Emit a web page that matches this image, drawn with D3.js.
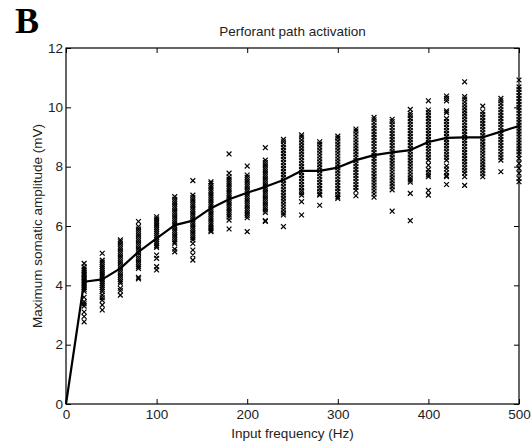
<!DOCTYPE html>
<html>
<head>
<meta charset="utf-8">
<script src="https://cdn.jsdelivr.net/npm/d3@7"></script>
<style>
  body { margin: 0; background: #fff; }
  svg { display: block; }
  text { font-family: Arial, "Liberation Sans", Helvetica, sans-serif; fill: #222; }
</style>
</head>
<body>
<div id="chart"></div>
<script>
// Input frequency (Hz) for each stimulation condition
const frequencies = [0, 20, 40, 60, 80, 100, 120, 140, 160, 180, 200, 220, 240,
    260, 280, 300, 320, 340, 360, 380, 400, 420, 440, 460, 480, 500];

// mean maximum somatic amplitude (mV), the solid line
const meanAmplitude = [0, 4.12, 4.2, 4.57, 5.13, 5.58, 6.03, 6.18, 6.6, 6.9, 7.12, 7.32, 7.55,
    7.86, 7.86, 7.97, 8.22, 8.39, 8.48, 8.56, 8.83, 8.97, 8.99, 8.99, 9.18, 9.37];

// individual trials (x markers), one list per frequency from 20 Hz up
const trials20 = [4.74, 4.62, 4.55, 4.5, 4.44, 4.38, 4.33, 4.27, 4.22, 4.17, 4.12, 4.07, 4.02, 3.97, 3.92, 3.86, 3.8, 3.6, 3.45, 3.38, 3.3, 3.1, 2.95, 2.77];
const trials40 = [5.08, 4.85, 4.78, 4.7, 4.63, 4.56, 4.49, 4.42, 4.35, 4.28, 4.21, 4.14, 4.07, 4.0, 3.93, 3.86, 3.79, 3.67, 3.58, 3.5, 3.34, 3.17];
const trials60 = [5.53, 5.47, 5.39, 5.31, 5.23, 5.15, 5.07, 4.99, 4.91, 4.83, 4.75, 4.67, 4.59, 4.51, 4.43, 4.35, 4.27, 4.19, 4.12, 4.07, 3.9, 3.82, 3.67];
const trials80 = [6.15, 5.98, 5.9, 5.82, 5.74, 5.66, 5.58, 5.5, 5.42, 5.34, 5.26, 5.18, 5.1, 5.02, 4.94, 4.86, 4.78, 4.7, 4.63, 4.57, 4.27, 4.22];
const trials100 = [6.31, 6.24, 6.17, 6.1, 6.03, 5.96, 5.89, 5.82, 5.75, 5.68, 5.61, 5.54, 5.47, 5.4, 5.33, 5.28, 5.02, 4.91, 4.63, 4.52];
const trials120 = [6.99, 6.9, 6.82, 6.74, 6.66, 6.58, 6.5, 6.42, 6.34, 6.26, 6.18, 6.1, 6.02, 5.94, 5.86, 5.78, 5.7, 5.62, 5.54, 5.46, 5.41, 5.22, 5.13];
const trials140 = [7.53, 7.04, 6.96, 6.88, 6.8, 6.72, 6.64, 6.56, 6.48, 6.4, 6.32, 6.24, 6.16, 6.08, 6.0, 5.92, 5.84, 5.76, 5.68, 5.6, 5.53, 5.41, 5.19, 5.02, 4.85];
const trials160 = [7.49, 7.44, 7.36, 7.28, 7.2, 7.12, 7.04, 6.96, 6.88, 6.8, 6.72, 6.64, 6.56, 6.48, 6.4, 6.32, 6.24, 6.16, 6.08, 6.0, 5.92, 5.86, 5.81];
const trials180 = [8.43, 7.78, 7.66, 7.58, 7.5, 7.42, 7.34, 7.26, 7.18, 7.1, 7.02, 6.94, 6.86, 6.78, 6.7, 6.62, 6.54, 6.46, 6.38, 6.3, 6.2, 5.9];
const trials200 = [8.02, 7.72, 7.64, 7.56, 7.48, 7.4, 7.32, 7.24, 7.16, 7.08, 7.0, 6.92, 6.84, 6.76, 6.68, 6.6, 6.52, 6.44, 6.36, 6.28, 5.81];
const trials220 = [8.64, 8.22, 8.14, 8.06, 7.98, 7.9, 7.82, 7.74, 7.66, 7.58, 7.5, 7.42, 7.34, 7.26, 7.18, 7.1, 7.02, 6.94, 6.86, 6.78, 6.7, 6.62, 6.54, 6.46, 6.18, 6.15];
const trials240 = [8.92, 8.84, 8.74, 8.64, 8.54, 8.44, 8.34, 8.24, 8.14, 8.04, 7.94, 7.84, 7.74, 7.64, 7.54, 7.44, 7.34, 7.24, 7.14, 7.04, 6.94, 6.84, 6.74, 6.64, 6.54, 6.44, 6.37, 5.98];
const trials260 = [9.07, 9.0, 8.9, 8.8, 8.7, 8.6, 8.5, 8.4, 8.3, 8.2, 8.1, 8.0, 7.9, 7.8, 7.7, 7.6, 7.5, 7.4, 7.3, 7.2, 7.12, 7.04, 6.82, 6.37];
const trials280 = [8.84, 8.76, 8.66, 8.56, 8.46, 8.36, 8.26, 8.16, 8.06, 7.96, 7.86, 7.76, 7.66, 7.56, 7.46, 7.36, 7.26, 7.16, 7.08, 7.04, 6.7];
const trials300 = [9.03, 8.96, 8.86, 8.76, 8.66, 8.56, 8.46, 8.36, 8.26, 8.16, 8.06, 7.96, 7.86, 7.76, 7.66, 7.56, 7.46, 7.36, 7.26, 7.16, 7.06, 6.98, 6.93];
const trials320 = [9.27, 9.2, 9.1, 9.0, 8.9, 8.8, 8.7, 8.6, 8.5, 8.4, 8.3, 8.2, 8.1, 8.0, 7.9, 7.8, 7.7, 7.6, 7.5, 7.4, 7.3, 7.2, 7.02];
const trials340 = [9.66, 9.58, 9.48, 9.38, 9.28, 9.18, 9.08, 8.98, 8.88, 8.78, 8.68, 8.58, 8.48, 8.38, 8.28, 8.18, 8.08, 7.98, 7.88, 7.78, 7.68, 7.58, 7.48, 7.38, 7.28, 7.18, 7.08, 6.97];
const trials360 = [9.6, 9.52, 9.42, 9.32, 9.22, 9.12, 9.02, 8.92, 8.82, 8.72, 8.62, 8.52, 8.42, 8.32, 8.22, 8.12, 8.02, 7.92, 7.82, 7.72, 7.62, 7.52, 7.42, 7.32, 7.22, 6.5];
const trials380 = [9.93, 9.8, 9.72, 9.62, 9.52, 9.42, 9.32, 9.22, 9.12, 9.02, 8.92, 8.82, 8.72, 8.62, 8.52, 8.42, 8.32, 8.22, 8.12, 8.02, 7.92, 7.82, 7.72, 7.62, 7.55, 7.48, 7.1, 6.18];
const trials400 = [10.22, 9.91, 9.82, 9.72, 9.62, 9.52, 9.42, 9.32, 9.22, 9.12, 9.02, 8.92, 8.82, 8.72, 8.62, 8.52, 8.42, 8.32, 8.22, 8.05, 7.9, 7.8, 7.72, 7.66, 7.2, 7.04];
const trials420 = [10.38, 10.3, 10.22, 9.88, 9.82, 9.62, 9.52, 9.42, 9.32, 9.22, 9.12, 9.02, 8.92, 8.82, 8.72, 8.62, 8.52, 8.42, 8.32, 8.22, 8.02, 7.92, 7.8, 7.7, 7.66, 7.4];
const trials440 = [10.86, 10.36, 10.28, 10.18, 10.08, 9.98, 9.88, 9.78, 9.68, 9.58, 9.48, 9.38, 9.28, 9.18, 9.08, 8.98, 8.88, 8.78, 8.68, 8.58, 8.48, 8.38, 8.28, 8.18, 8.08, 7.98, 7.88, 7.78, 7.66, 7.37];
const trials460 = [10.04, 9.85, 9.76, 9.66, 9.56, 9.46, 9.36, 9.26, 9.16, 9.06, 8.96, 8.86, 8.76, 8.66, 8.56, 8.46, 8.36, 8.26, 8.16, 8.06, 7.96, 7.86, 7.76, 7.66];
const trials480 = [10.3, 10.22, 10.12, 10.02, 9.92, 9.82, 9.72, 9.62, 9.52, 9.42, 9.32, 9.22, 9.12, 9.02, 8.92, 8.82, 8.72, 8.62, 8.52, 8.42, 8.32, 8.22, 7.83];
const trials500 = [10.92, 10.69, 10.6, 10.5, 10.4, 10.3, 10.2, 10.1, 10.0, 9.9, 9.8, 9.7, 9.6, 9.5, 9.4, 9.3, 9.2, 9.1, 9.0, 8.9, 8.8, 8.7, 8.6, 8.5, 8.4, 8.28, 8.11, 7.95, 7.78, 7.6, 7.49];

const trialFrequencies = frequencies.slice(1);
const trialSets = [trials20, trials40, trials60, trials80, trials100, trials120, trials140,
    trials160, trials180, trials200, trials220, trials240, trials260, trials280, trials300,
    trials320, trials340, trials360, trials380, trials400, trials420, trials440, trials460,
    trials480, trials500];

// tick labels
const xTicks = [0, 100, 200, 300, 400, 500];
const yTicks = [0, 2, 4, 6, 8, 10, 12];

const width = 531, height = 441;
const margin = { top: 48, right: 12, bottom: 37, left: 66 };
const innerW = width - margin.left - margin.right;
const innerH = height - margin.top - margin.bottom;

const svg = d3.select("#chart").append("svg")
    .attr("width", width)
    .attr("height", height);

const g = svg.append("g")
    .attr("transform", `translate(${margin.left},${margin.top})`);

const x = d3.scaleLinear().domain([0, 500]).range([0, innerW]);
const y = d3.scaleLinear().domain([0, 12]).range([innerH, 0]);

// flatten trials into points
const points = [];
trialSets.forEach((vals, i) => {
    vals.forEach(v => points.push({ f: trialFrequencies[i], v: v }));
});

// x markers
const s = 2.4;
g.append("g").attr("class", "trials")
    .selectAll("path")
    .data(points)
    .enter().append("path")
    .attr("d", d => {
        const px = x(d.f), py = y(d.v);
        return `M${px - s},${py - s}L${px + s},${py + s}M${px - s},${py + s}L${px + s},${py - s}`;
    })
    .style("stroke", "#000")
    .style("stroke-width", 1.2)
    .style("fill", "none");

// mean line
const line = d3.line()
    .x((d, i) => x(frequencies[i]))
    .y(d => y(d));

g.append("path")
    .datum(meanAmplitude)
    .attr("d", line)
    .style("fill", "none")
    .style("stroke", "#000")
    .style("stroke-width", 2.2)
    .style("stroke-linejoin", "round");

// axes - ticks point inward on all four sides (matlab box)
const fontSize = "13.5px";
const styleAxis = sel => {
    sel.select(".domain").remove();
    sel.selectAll(".tick line").style("stroke", "#000");
    sel.selectAll("text").style("font-size", fontSize).style("fill", "#222")
        .style("font-family", "Arial, 'Liberation Sans', Helvetica, sans-serif");
};

g.append("g")
    .attr("transform", `translate(0,${innerH})`)
    .call(d3.axisBottom(x).tickValues(xTicks).tickSize(-5).tickPadding(5))
    .call(styleAxis);

g.append("g")
    .call(d3.axisLeft(y).tickValues(yTicks).tickSize(-5).tickPadding(3))
    .call(styleAxis);

g.append("g")
    .call(d3.axisTop(x).tickValues(xTicks).tickSize(-5).tickFormat(""))
    .call(styleAxis);

g.append("g")
    .attr("transform", `translate(${innerW},0)`)
    .call(d3.axisRight(y).tickValues(yTicks).tickSize(-5).tickFormat(""))
    .call(styleAxis);

// frame
g.append("rect")
    .attr("width", innerW)
    .attr("height", innerH)
    .style("fill", "none")
    .style("stroke", "#000")
    .style("stroke-width", 1.2);

// labels
svg.append("text")
    .attr("x", margin.left + innerW / 2)
    .attr("y", 36)
    .attr("text-anchor", "middle")
    .style("font-size", fontSize)
    .text("Perforant path activation");

svg.append("text")
    .attr("x", margin.left + innerW / 2)
    .attr("y", 438)
    .attr("text-anchor", "middle")
    .style("font-size", fontSize)
    .text("Input frequency (Hz)");

svg.append("text")
    .attr("transform", `translate(42,${margin.top + innerH / 2}) rotate(-90)`)
    .attr("text-anchor", "middle")
    .style("font-size", fontSize)
    .text("Maximum somatic amplitude (mV)");

// panel letter
svg.append("text")
    .attr("x", 15)
    .attr("y", 33)
    .style("font-family", "'Liberation Serif', 'Times New Roman', serif")
    .style("font-weight", "bold")
    .style("font-size", "36px")
    .style("fill", "#000")
    .text("B");
</script>
</body>
</html>
